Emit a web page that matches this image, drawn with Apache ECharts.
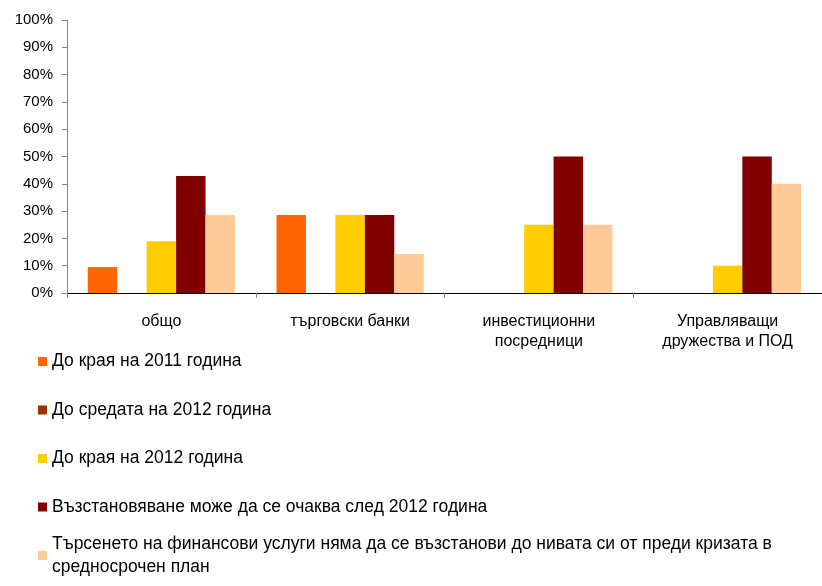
<!DOCTYPE html>
<html>
<head>
<meta charset="utf-8">
<script src="https://cdn.jsdelivr.net/npm/echarts@6/dist/echarts.min.js"></script>
<style>
  html, body { margin: 0; padding: 0; background: #fff; }
  #chart { width: 822px; height: 586px; }
</style>
</head>
<body>
<div id="chart"></div>
<script>
const categories = ["общо", "търговски банки", "инвестиционни\nпосредници", "Управляващи\nдружества и ПОД"];
const yTicks = [0, 10, 20, 30, 40, 50, 60, 70, 80, 90, 100];

const names = [
  "До края на 2011 година",
  "До средата на 2012 година",
  "До края на 2012 година",
  "Възстановяване може да се очаква след 2012 година",
  "Търсенето на финансови услуги няма да се възстанови до нивата си от преди кризата в\nсредносрочен план",
];
const end2011 = [9.5, 28.6, 0, 0];
const mid2012 = [0, 0, 0, 0];
const end2012 = [19, 28.6, 25, 10];
const after2012 = [42.9, 28.6, 50, 50];
const noRecovery = [28.6, 14.3, 25, 40];

const colors = ["#FF6600", "#993300", "#FFCC00", "#800000", "#FFCC99"];
const font = "Liberation Sans";

const chart = echarts.init(document.getElementById("chart"));

const seriesData = [end2011, mid2012, end2012, after2012, noRecovery];

chart.setOption({
  animation: false,
  color: colors,
  textStyle: { fontFamily: font },
  grid: { left: 67, top: 20, right: -9, bottom: 293, containLabel: false },
  xAxis: {
    type: "category",
    data: categories,
    axisLine: { lineStyle: { color: "#000", width: 1 } },
    axisTick: { show: true, length: 5, lineStyle: { color: "#868686" } },
    axisLabel: { color: "#000", fontSize: 16, lineHeight: 20, margin: 19, fontFamily: font, interval: 0 },
  },
  yAxis: {
    type: "value",
    min: yTicks[0],
    max: yTicks[yTicks.length - 1],
    interval: 10,
    splitLine: { show: false },
    axisLine: { show: true, lineStyle: { color: "#868686" } },
    axisTick: { show: true, length: 5, lineStyle: { color: "#868686" } },
    axisLabel: { color: "#000", fontSize: 15, margin: 14, formatter: "{value}%", fontFamily: font },
  },
  legend: [
    {
      orient: "vertical",
      left: 38,
      top: 351.5,
      padding: 0,
      itemGap: 28.5,
      itemWidth: 9,
      itemHeight: 9,
      icon: "rect",
      selectedMode: false,
      data: names.slice(0, 4),
      textStyle: { color: "#000", fontSize: 17.5, lineHeight: 20, fontFamily: font },
    },
    {
      orient: "vertical",
      left: 38,
      top: 521,
      padding: 0,
      itemWidth: 9,
      itemHeight: 9,
      icon: "rect",
      selectedMode: false,
      data: names.slice(4),
      textStyle: { color: "#000", fontSize: 17.5, lineHeight: 23, padding: [23, 0, 0, 0], fontFamily: font },
    },
  ],
  series: seriesData.map((d, i) => ({
    name: names[i],
    type: "bar",
    data: d,
    barGap: "0%",
    barCategoryGap: "22%",
  })),
});
</script>
</body>
</html>
